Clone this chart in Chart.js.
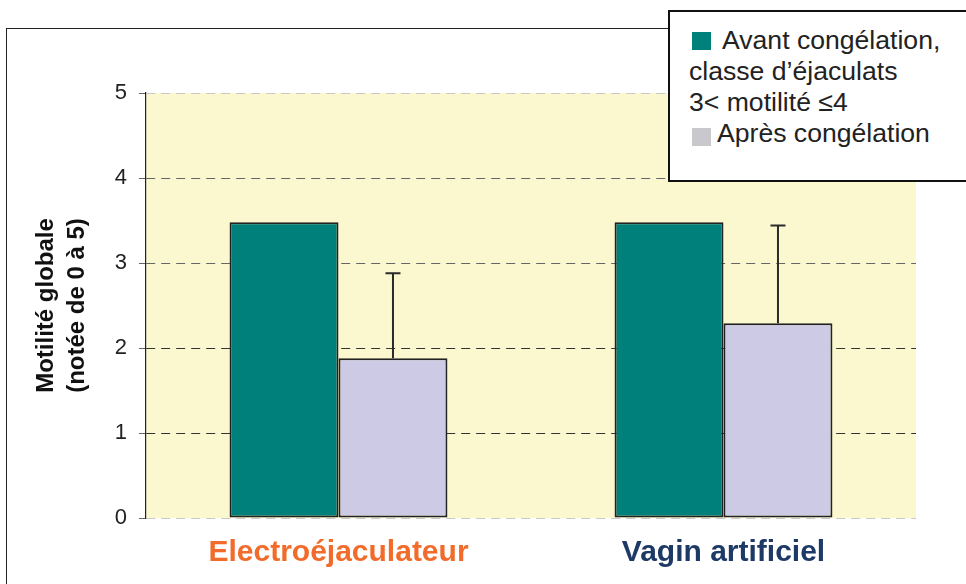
<!DOCTYPE html>
<html>
<head>
<meta charset="utf-8">
<script src="https://cdn.jsdelivr.net/npm/chart.js@4/dist/chart.umd.min.js"></script>
<style>
  html, body { margin: 0; padding: 0; background: #ffffff; }
  #wrap { position: relative; width: 966px; height: 584px; overflow: hidden; font-family: "Liberation Sans", Arial, sans-serif; }
  #frame { position: absolute; left: 6px; top: 28px; width: 1200px; height: 800px; border-left: 1.5px solid #222; border-top: 1.5px solid #222; z-index: 0; }
  canvas { position: absolute; left: 0; top: 0; z-index: 1; }
  #legend { position: absolute; left: 668px; top: 10px; width: 330px; height: 168px; border: 2px solid #111; background: #fff; z-index: 2; color: #222; font-size: 26.6px; }
  .ln { position: absolute; white-space: nowrap; line-height: 31px; height: 31px; }
  .sw { position: absolute; width: 19px; height: 18px; }
</style>
</head>
<body>
<div id="wrap">
  <div id="frame"></div>
  <canvas id="c" width="966" height="584"></canvas>
  <div id="legend">
    <div class="sw" style="left:22px; top:20px; background:#00807b;"></div>
    <div class="ln" style="left:52px; top:13px;">Avant congélation,</div>
    <div class="ln" style="left:19px; top:44px;">classe d’éjaculats</div>
    <div class="ln" style="left:19px; top:75px;">3&lt; motilité ≤4</div>
    <div class="sw" style="left:22px; top:116px; background:#c9c9cd;"></div>
    <div class="ln" style="left:47px; top:106px;">Après congélation</div>
  </div>
</div>
<script>
const categories = ["Electroéjaculateur", "Vagin artificiel"];
const seriesNames = ["Avant congélation, classe d’éjaculats 3< motilité ≤4", "Après congélation"];
const avantValues = [3.48, 3.48];
const apresValues = [1.88, 2.29];
const apresErrors = [1.00, 1.15];
const yTicks = [0, 1, 2, 3, 4, 5];
const categoryColors = ["#f26b2a", "#1d3966"];

const FONT = '"Liberation Sans", Arial, sans-serif';

const bgPlugin = {
  id: 'plotBg',
  beforeDraw(chart) {
    const a = chart.chartArea, ctx = chart.ctx;
    ctx.save();
    ctx.fillStyle = '#fbf8cf';
    ctx.fillRect(a.left, a.top, a.right - a.left, a.bottom - a.top);
    ctx.restore();
  }
};

const errPlugin = {
  id: 'errBars',
  afterDatasetsDraw(chart) {
    const meta = chart.getDatasetMeta(1);
    const ys = chart.scales.y, ctx = chart.ctx;
    ctx.save();
    ctx.strokeStyle = '#2a2a2a';
    ctx.lineWidth = 2;
    meta.data.forEach((bar, i) => {
      const x = bar.x;
      const y0 = ys.getPixelForValue(apresValues[i]);
      const y1 = ys.getPixelForValue(apresValues[i] + apresErrors[i]);
      ctx.beginPath();
      ctx.moveTo(x, y0); ctx.lineTo(x, y1);
      ctx.moveTo(x - 7.5, y1); ctx.lineTo(x + 7.5, y1);
      ctx.stroke();
    });
    ctx.restore();
  }
};

const gridColors = {0: '#c8c8c8', 1: '#333', 2: '#333', 3: '#666', 4: '#666', 5: '#c8c8c8'};

new Chart(document.getElementById('c'), {
  type: 'bar',
  data: {
    labels: categories,
    datasets: [
      { label: seriesNames[0], data: avantValues, backgroundColor: '#00807b', borderColor: '#222', borderWidth: 2, borderSkipped: false, categoryPercentage: 0.566, barPercentage: 1.0 },
      { label: seriesNames[1], data: apresValues, backgroundColor: '#cdcae6', borderColor: '#222', borderWidth: 2, borderSkipped: false, categoryPercentage: 0.566, barPercentage: 1.0 }
    ]
  },
  options: {
    responsive: false,
    animation: false,
    devicePixelRatio: 1,
    layout: { padding: { top: 93, right: 50, bottom: 0, left: 0 } },
    plugins: { legend: { display: false }, tooltip: { enabled: false } },
    scales: {
      x: {
        afterFit(s) { s.height = 66; },
        grid: { display: false, drawTicks: false },
        border: { display: false },
        ticks: {
          padding: 17,
          font: { family: FONT, size: 30, weight: 'bold' },
          color: (ctx) => categoryColors[ctx.index]
        }
      },
      y: {
        min: 0, max: 5,
        afterFit(s) { s.width = 146; },
        afterBuildTicks(s) { s.ticks = yTicks.map(v => ({ value: v })); },
        border: { display: true, color: '#222', width: 1.2, dash: [9, 6] },
        grid: {
          color: (ctx) => gridColors[ctx.tick ? ctx.tick.value : 0] || '#333',
          lineWidth: 1,
          drawTicks: true,
          tickLength: 7,
          tickColor: '#666',
          tickBorderDash: []
        },
        ticks: {
          padding: 12,
          font: { family: FONT, size: 22 },
          color: '#222'
        },
        title: {
          display: true,
          text: ['Motilité globale', '(notée de 0 à 5)'],
          font: { family: FONT, size: 24, weight: 'bold', lineHeight: 1.28 },
          color: '#111',
          padding: { top: 31, bottom: 0 }
        }
      }
    }
  },
  plugins: [bgPlugin, errPlugin]
});
</script>
</body>
</html>
